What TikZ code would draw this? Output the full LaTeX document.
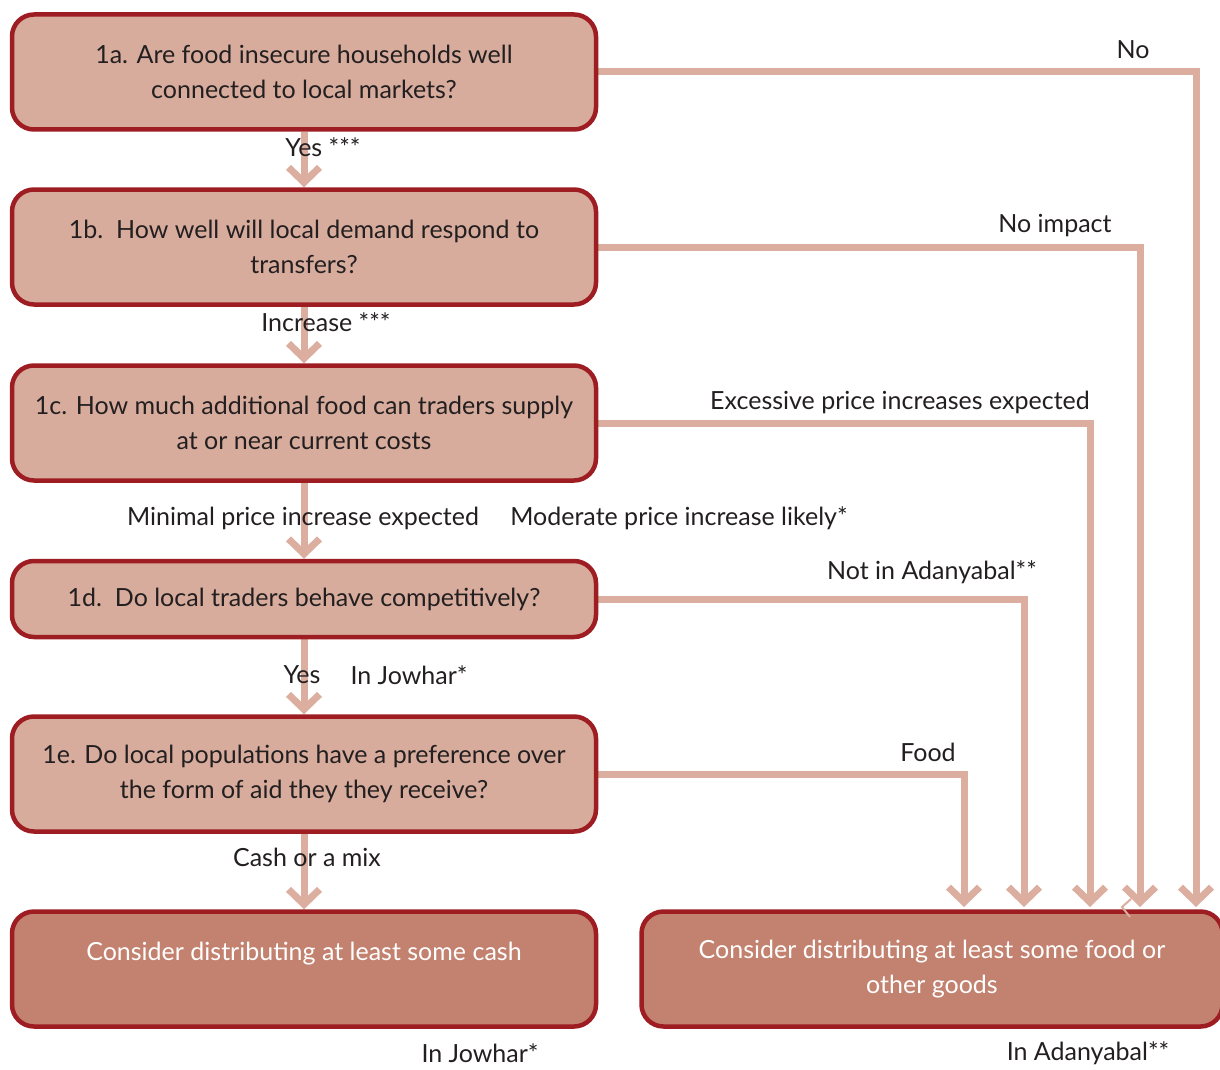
\documentclass[tikz,border=0pt]{standalone}
\usepackage{fontspec}
\setmainfont{Lato}
\usetikzlibrary{positioning,arrows.meta,backgrounds}

\definecolor{boxfill}{HTML}{D7AC9C}
\definecolor{boxdark}{HTML}{C3826F}
\definecolor{boxline}{HTML}{9D1D22}
\definecolor{flowcol}{HTML}{DBAE9F}
\definecolor{textcol}{HTML}{231F20}

\begin{document}
\begin{tikzpicture}[x=1pt,y=-1pt,
  question/.style={rectangle, rounded corners=22pt, draw=boxline, line width=4.5pt,
    fill=boxfill, text=textcol, minimum width=584pt, minimum height=115pt,
    align=center, font=\fontsize{25}{34.5}\selectfont},
  outcome/.style={question, fill=boxdark, text=white},
  flow/.style={draw=flowcol, line width=7pt, line join=miter,
    -{Straight Barb[length=15pt,width=31pt]}},
  lbl/.style={text=textcol, inner sep=0pt, font=\fontsize{25}{30}\selectfont}]
\useasboundingbox (0,0) rectangle (1220,1070);

\node[question] (q1a) at (304,72) {1a. Are food insecure households well\\connected to local markets?};
\node[question] (q1b) at (304,247) {1b.\ \ How well will local demand respond to\\transfers?};
\node[question] (q1c) at (304,423) {1c. How much additional food can traders supply\\at or near current costs};
\node[question, minimum height=76pt] (q1d) at (304,599) {1d.\ \ Do local traders behave competitively?};
\node[question] (q1e) at (304,774) {1e. Do local populations have a preference over\\the form of aid they they receive?};
\node[outcome] (cash) at (304,969) {Consider distributing at least some cash\\\mbox{}};
\node[outcome, minimum width=581pt] (goods) at (932,969) {Consider distributing at least some food or\\other goods};

% ends of the side connectors on top of the goods box
\coordinate (inA) at (1196,907);
\coordinate (inB) at (1140,907);
\coordinate (inC) at (1090,907);
\coordinate (inD) at (1024,907);
\coordinate (inE) at (964,907);

\begin{scope}[on background layer]
\draw[flow] (q1a) -- (q1b);
\draw[flow] (q1b) -- (q1c);
\draw[flow] (q1c) -- (q1d);
\draw[flow] (q1d) -- (q1e);
\draw[flow] (q1e) -- (cash);
\draw[flow] (q1a.east) -| (inA);
\draw[flow] (q1b.east) -| (inB);
\draw[flow] (q1c.east) -| (inC);
\draw[flow] (q1d.east) -| (inD);
\draw[flow] (q1e.east) -| (inE);
\end{scope}
\draw[flowcol, line width=2pt] (1131,899) -- (1122,907) -- (1130,917);

\node[lbl] (yesA) at (323,147) {Yes ***};
\node[lbl] (incr) at (326,322) {Increase ***};
\node[lbl] (minimal) at (303,518) {Minimal price increase expected};
\node[lbl] (moderate) at (679,518) {Moderate price increase likely*};
\node[lbl] (yesD) at (302,675) {Yes};
\node[lbl] (jowharD) at (409,675) {In Jowhar*};
\node[lbl] (mix) at (307,857) {Cash or a mix};
\node[lbl] (no) at (1133,50) {No};
\node[lbl] (noimp) at (1055,226) {No impact};
\node[lbl] (excess) at (900,402) {Excessive price increases expected};
\node[lbl] (notadan) at (932,572) {Not in Adanyabal**};
\node[lbl] (food) at (928,752) {Food};
\node[lbl] (jowhar) at (480,1053) {In Jowhar*};
\node[lbl] (adan) at (1088,1053) {In Adanyabal**};
\end{tikzpicture}
\end{document}
